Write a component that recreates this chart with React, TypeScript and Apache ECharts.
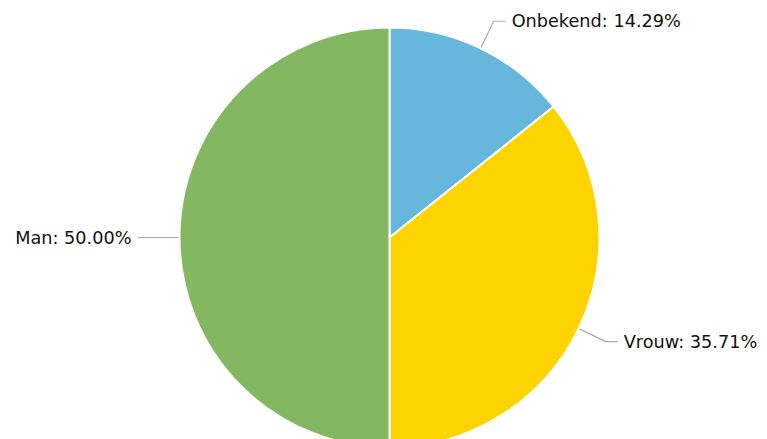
import React, { useEffect, useRef } from "react";
import * as echarts from "echarts";

const categories = ["Onbekend", "Vrouw", "Man"];
const values = [2, 5, 7];
const colors = ["#67b7dc", "#fdd400", "#84b761"];

export default function App() {
  const ref = useRef<HTMLDivElement>(null);
  useEffect(() => {
    const chart = echarts.init(ref.current!, null, { renderer: "svg" });
    const total = values.reduce((a, b) => a + b, 0);
    chart.setOption({
      animation: false,
      backgroundColor: "#ffffff",
      series: [
        {
          type: "pie",
          center: [389.5, 237.5],
          radius: 210,
          startAngle: 90,
          clockwise: true,
          avoidLabelOverlap: false,
          data: categories.map((c, i) => ({
            name: c,
            value: values[i],
            itemStyle: { color: colors[i] },
          })),
          itemStyle: { borderColor: "#ffffff", borderWidth: 2 },
          label: {
            show: true,
            fontFamily: "DejaVu Sans, Verdana, sans-serif",
            fontSize: 17.7,
            color: "#111111",
            padding: [8, 0, 0, 0],
            formatter: (p: any) =>
              `${p.name}: ${((p.value / total) * 100).toFixed(2)}%`,
            distanceToLabelLine: 6,
          },
          labelLine: {
            show: true,
            length: 30,
            length2: 12,
            lineStyle: { color: "#aaaaaa", width: 1.2 },
          },
          emphasis: { disabled: true },
        },
      ],
    });
    return () => chart.dispose();
  }, []);
  return (
    <div
      ref={ref}
      style={{ position: "fixed", left: 0, top: 0, width: 767, height: 439 }}
    />
  );
}
